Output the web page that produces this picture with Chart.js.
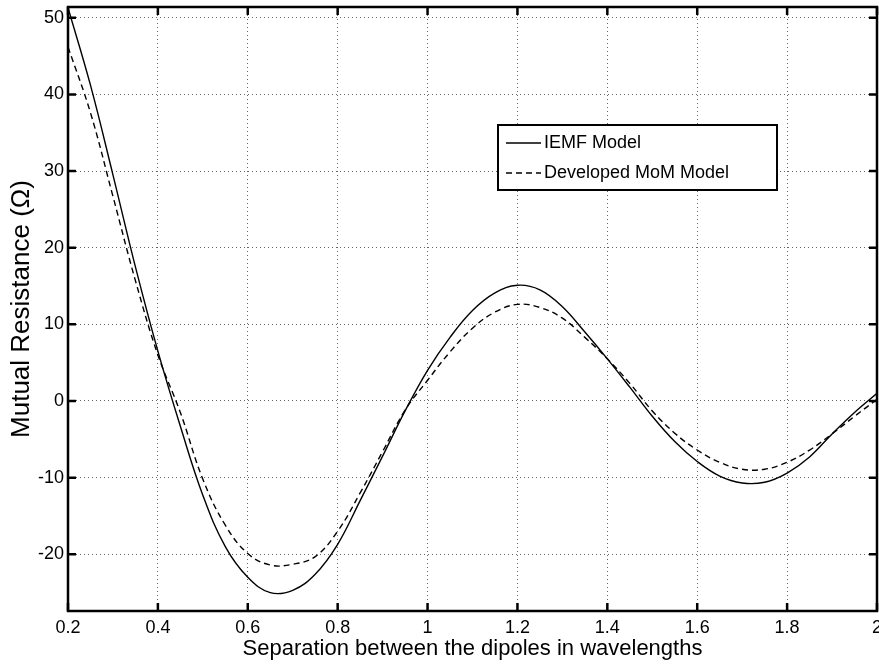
<!DOCTYPE html>
<html>
<head>
<meta charset="utf-8">
<script src="https://cdn.jsdelivr.net/npm/chart.js@4.4.1/dist/chart.umd.min.js"></script>
<style>
  html, body { margin: 0; padding: 0; background: #fff; }
  #wrap { width: 879px; height: 666px; }
</style>
</head>
<body>
<div id="wrap"><canvas id="chart" width="879" height="666"></canvas></div>
<script>
// separation in wavelengths
const separation = [0.20, 0.25, 0.30, 0.35, 0.40, 0.45, 0.50, 0.55, 0.60, 0.65,
                    0.70, 0.75, 0.80, 0.85, 0.90, 0.95, 1.00, 1.05, 1.10, 1.15,
                    1.20, 1.25, 1.30, 1.35, 1.40, 1.45, 1.50, 1.55, 1.60, 1.65,
                    1.70, 1.75, 1.80, 1.85, 1.90, 1.95, 2.00];

// mutual resistance (ohm)
const iemfModel = [51.3, 41.2, 29.5, 17.5, 6.5, -3.3, -12.3, -19.0, -23.0, -25.0,
                   -24.7, -22.6, -18.7, -13.0, -7.2, -1.3, 4.0, 8.3, 11.8, 14.1,
                   15.1, 14.5, 12.3, 9.0, 5.5, 1.8, -2.0, -5.3, -7.9, -9.8,
                   -10.7, -10.6, -9.4, -7.3, -4.3, -1.5, 1.0];
const momModel = [46.2, 37.6, 26.7, 15.7, 6.0, -1.5, -10.2, -16.2, -19.9, -21.4,
                  -21.3, -20.3, -17.0, -12.0, -6.6, -1.2, 2.7, 6.4, 9.5, 11.6,
                  12.6, 12.2, 10.8, 8.3, 5.5, 2.3, -1.3, -4.2, -6.4, -8.0,
                  -8.9, -8.9, -8.0, -6.4, -4.3, -2.0, 0.2];

const seriesNames = ['IEMF Model', 'Developed MoM Model'];
const xTicks = [0.2, 0.4, 0.6, 0.8, 1, 1.2, 1.4, 1.6, 1.8, 2];
const yTicks = [-20, -10, 0, 10, 20, 30, 40, 50];

const FONT = 'Arial, "Liberation Sans", Helvetica, sans-serif';

function toPoints(ys) {
    return separation.map((x, i) => ({ x: x, y: ys[i] }));
}

// box, inward ticks on all four sides, and the legend
const matlabFrame = {
    id: 'matlabFrame',
    afterDatasetsDraw(chart) {
        const ctx = chart.ctx;
        const a = chart.chartArea;
        const xs = chart.scales.x;
        const ys = chart.scales.y;
        const tick = 8;

        ctx.save();
        ctx.strokeStyle = '#000';
        ctx.lineWidth = 2.5;
        ctx.setLineDash([]);
        ctx.beginPath();
        xs.ticks.forEach(t => {
            const px = xs.getPixelForValue(t.value);
            ctx.moveTo(px, a.bottom); ctx.lineTo(px, a.bottom - tick);
            ctx.moveTo(px, a.top); ctx.lineTo(px, a.top + tick);
        });
        ys.ticks.forEach(t => {
            const py = ys.getPixelForValue(t.value);
            ctx.moveTo(a.left, py); ctx.lineTo(a.left + tick, py);
            ctx.moveTo(a.right, py); ctx.lineTo(a.right - tick, py);
        });
        ctx.stroke();
        ctx.strokeRect(a.left, a.top, a.right - a.left, a.bottom - a.top);

        // legend box
        const box = { x: 498, y: 125, w: 279, h: 65 };
        ctx.fillStyle = '#fff';
        ctx.fillRect(box.x, box.y, box.w, box.h);
        ctx.lineWidth = 2;
        ctx.strokeRect(box.x, box.y, box.w, box.h);
        ctx.font = '18px ' + FONT;
        ctx.textBaseline = 'middle';
        ctx.textAlign = 'left';
        chart.data.datasets.forEach((ds, i) => {
            const cy = 143 + i * 30;
            ctx.lineWidth = 1.4;
            ctx.setLineDash(ds.borderDash || []);
            ctx.beginPath();
            ctx.moveTo(506, cy);
            ctx.lineTo(541, cy);
            ctx.stroke();
            ctx.setLineDash([]);
            ctx.fillStyle = '#000';
            ctx.fillText(ds.label, 544, cy);
        });
        ctx.restore();
    }
};

new Chart(document.getElementById('chart'), {
    type: 'line',
    data: {
        datasets: [{
            label: seriesNames[0],
            data: toPoints(iemfModel),
            borderColor: '#000',
            borderWidth: 1.4,
            pointRadius: 0,
            tension: 0.4,
            fill: false
        }, {
            label: seriesNames[1],
            data: toPoints(momModel),
            borderColor: '#000',
            borderWidth: 1.4,
            borderDash: [6, 4],
            pointRadius: 0,
            tension: 0.4,
            fill: false
        }]
    },
    options: {
        responsive: false,
        animation: false,
        layout: { padding: { top: 7, right: 2, left: 0, bottom: 0 } },
        scales: {
            x: {
                type: 'linear',
                min: 0.2,
                max: 2,
                afterBuildTicks: s => { s.ticks = xTicks.map(v => ({ value: v })); },
                afterFit: s => { s.height = 55; s.paddingLeft = 0; s.paddingRight = 0; },
                grid: { color: '#666', lineWidth: 1, drawTicks: false },
                border: { display: false, dash: [1, 3] },
                ticks: {
                    color: '#000',
                    padding: 6,
                    maxRotation: 0,
                    font: { family: FONT, size: 18 },
                    callback: v => String(v)
                },
                title: {
                    display: true,
                    text: 'Separation between the dipoles in wavelengths',
                    color: '#000',
                    font: { family: FONT, size: 22 },
                    padding: { top: 0, bottom: 4 }
                }
            },
            y: {
                min: -27.4,
                max: 51.4,
                afterBuildTicks: s => { s.ticks = yTicks.map(v => ({ value: v })); },
                afterFit: s => { s.width = 68; s.paddingTop = 0; s.paddingBottom = 0; },
                grid: { color: '#666', lineWidth: 1, drawTicks: false },
                border: { display: false, dash: [1, 3] },
                ticks: {
                    color: '#000',
                    padding: 4,
                    font: { family: FONT, size: 18 },
                    callback: v => String(v)
                },
                title: {
                    display: true,
                    text: 'Mutual Resistance (Ω)',
                    color: '#000',
                    font: { family: FONT, size: 26 },
                    padding: { top: 6, bottom: 0 }
                }
            }
        },
        plugins: {
            legend: { display: false },
            tooltip: { enabled: false }
        }
    },
    plugins: [matlabFrame]
});
</script>
</body>
</html>
